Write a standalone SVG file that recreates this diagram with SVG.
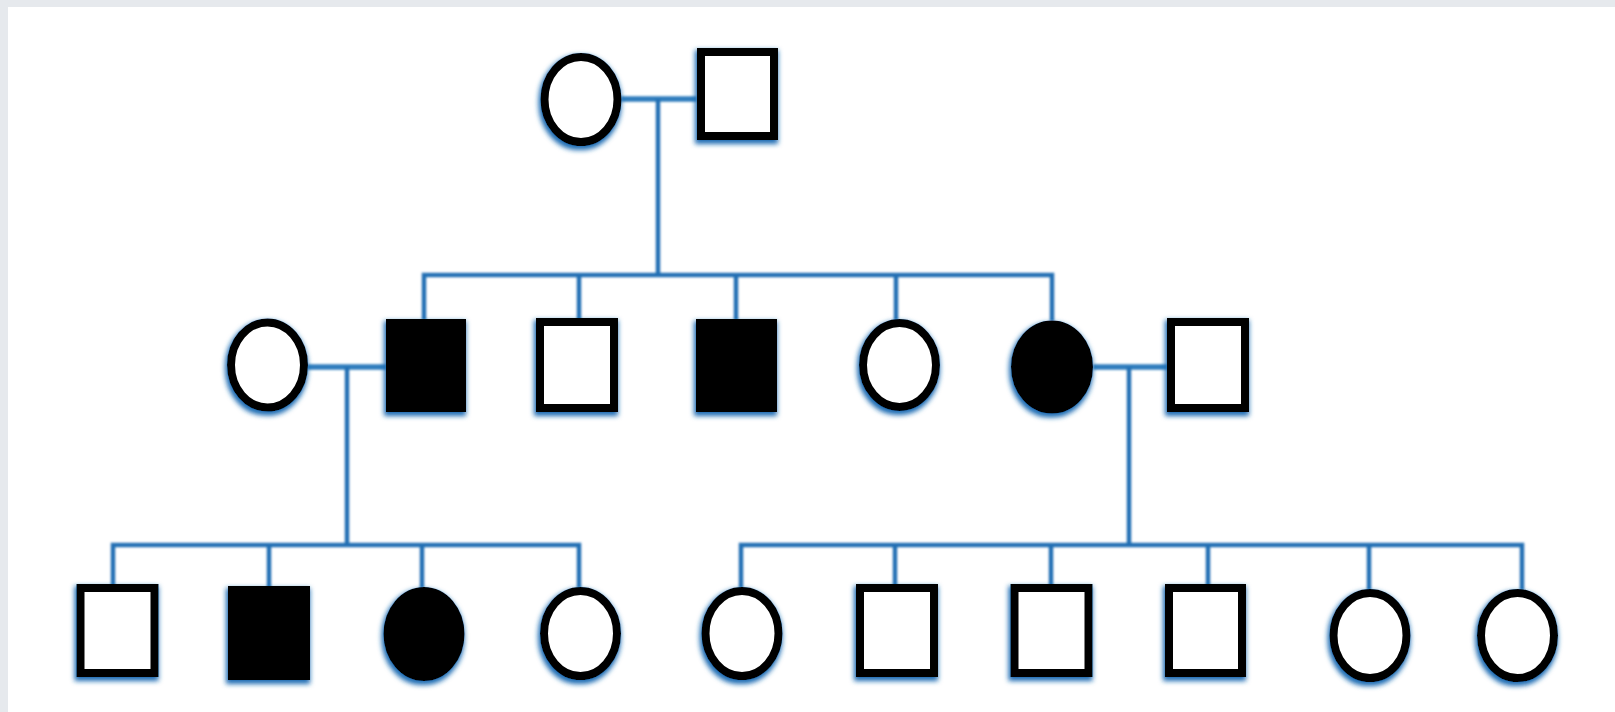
<svg xmlns="http://www.w3.org/2000/svg" width="1615" height="712" viewBox="0 0 1615 712">
<defs>
<filter id="glow" x="-25%" y="-25%" width="150%" height="150%">
<feFlood flood-color="#1a6cb3" result="f"/>
<feComposite in="f" in2="SourceAlpha" operator="in" result="c"/>
<feMorphology in="c" operator="dilate" radius="1" result="d"/>
<feGaussianBlur in="d" stdDeviation="2.4" result="b"/>
<feOffset in="b" dx="-1" dy="3" result="o"/>
<feMerge><feMergeNode in="o"/><feMergeNode in="SourceGraphic"/></feMerge>
</filter>
<filter id="soft" x="-5%" y="-5%" width="110%" height="110%">
<feGaussianBlur stdDeviation="0.9"/>
</filter>
</defs>
<style>
.open{fill:#ffffff;stroke:#000000;stroke-width:8}
.aff{fill:#000000;stroke:#000000;stroke-width:8}
.ln{stroke:#2270b4;stroke-width:4.5;fill:none;stroke-linecap:butt}
.mar{stroke:#2d7dbd;stroke-width:5.5;fill:none}
</style>
<rect x="0" y="0" width="1615" height="712" fill="#e6e9ed"/>
<rect x="8" y="7" width="1607" height="705" fill="#ffffff"/>
<g id="connectors" filter="url(#soft)">
<line class="mar" x1="621" y1="99" x2="697" y2="99"/>
<line class="ln" x1="658" y1="99" x2="658" y2="275"/>
<polyline class="ln" points="424,320 424,275 1052,275 1052,321"/>
<line class="ln" x1="579" y1="275" x2="579" y2="320"/>
<line class="ln" x1="736" y1="275" x2="736" y2="320"/>
<line class="ln" x1="896" y1="275" x2="896" y2="320"/>
<line class="mar" x1="307" y1="367" x2="387" y2="367"/>
<line class="ln" x1="347" y1="367" x2="347" y2="545"/>
<polyline class="ln" points="113,586 113,545 579,545 579,588"/>
<line class="ln" x1="269" y1="545" x2="269" y2="588"/>
<line class="ln" x1="422" y1="545" x2="422" y2="588"/>
<line class="mar" x1="1093" y1="367" x2="1168" y2="367"/>
<line class="ln" x1="1129" y1="367" x2="1129" y2="545"/>
<polyline class="ln" points="741,588 741,545 1522,545 1522,590"/>
<line class="ln" x1="895" y1="545" x2="895" y2="586"/>
<line class="ln" x1="1051" y1="545" x2="1051" y2="586"/>
<line class="ln" x1="1208" y1="545" x2="1208" y2="586"/>
<line class="ln" x1="1369" y1="545" x2="1369" y2="590"/>
</g>
<g id="gen1-mother" filter="url(#glow)"><ellipse class="open" cx="581" cy="99.5" rx="36.5" ry="42.5"/></g>
<g id="gen1-father" filter="url(#glow)"><rect class="open" x="701" y="52" width="73" height="84"/></g>
<g id="gen2-wife" filter="url(#glow)"><ellipse class="open" cx="267.5" cy="365" rx="36.5" ry="42.5"/></g>
<g id="gen2-son1" filter="url(#glow)"><rect class="aff" x="390" y="323" width="72" height="85"/></g>
<g id="gen2-son2" filter="url(#glow)"><rect class="open" x="540" y="322" width="74" height="86"/></g>
<g id="gen2-son3" filter="url(#glow)"><rect class="aff" x="700" y="323" width="73" height="85"/></g>
<g id="gen2-daughter1" filter="url(#glow)"><ellipse class="open" cx="899.5" cy="365" rx="36.5" ry="42"/></g>
<g id="gen2-daughter2" filter="url(#glow)"><ellipse class="aff" cx="1052" cy="367" rx="37" ry="42.5"/></g>
<g id="gen2-husband" filter="url(#glow)"><rect class="open" x="1171" y="322" width="74" height="86"/></g>
<g id="gen3-1" filter="url(#glow)"><rect class="open" x="80.5" y="588" width="74" height="85"/></g>
<g id="gen3-2" filter="url(#glow)"><rect class="aff" x="232" y="590" width="74" height="86"/></g>
<g id="gen3-3" filter="url(#glow)"><ellipse class="aff" cx="424" cy="634" rx="36.5" ry="43"/></g>
<g id="gen3-4" filter="url(#glow)"><ellipse class="open" cx="580.5" cy="633.5" rx="36.5" ry="42.5"/></g>
<g id="gen3-5" filter="url(#glow)"><ellipse class="open" cx="742" cy="633.5" rx="36.5" ry="42.5"/></g>
<g id="gen3-6" filter="url(#glow)"><rect class="open" x="860" y="588" width="74" height="85"/></g>
<g id="gen3-7" filter="url(#glow)"><rect class="open" x="1014.5" y="588" width="74" height="85"/></g>
<g id="gen3-8" filter="url(#glow)"><rect class="open" x="1169" y="588" width="73" height="85"/></g>
<g id="gen3-9" filter="url(#glow)"><ellipse class="open" cx="1370" cy="635.5" rx="36.5" ry="42.5"/></g>
<g id="gen3-10" filter="url(#glow)"><ellipse class="open" cx="1517.5" cy="635.5" rx="36.5" ry="42.5"/></g>
</svg>
